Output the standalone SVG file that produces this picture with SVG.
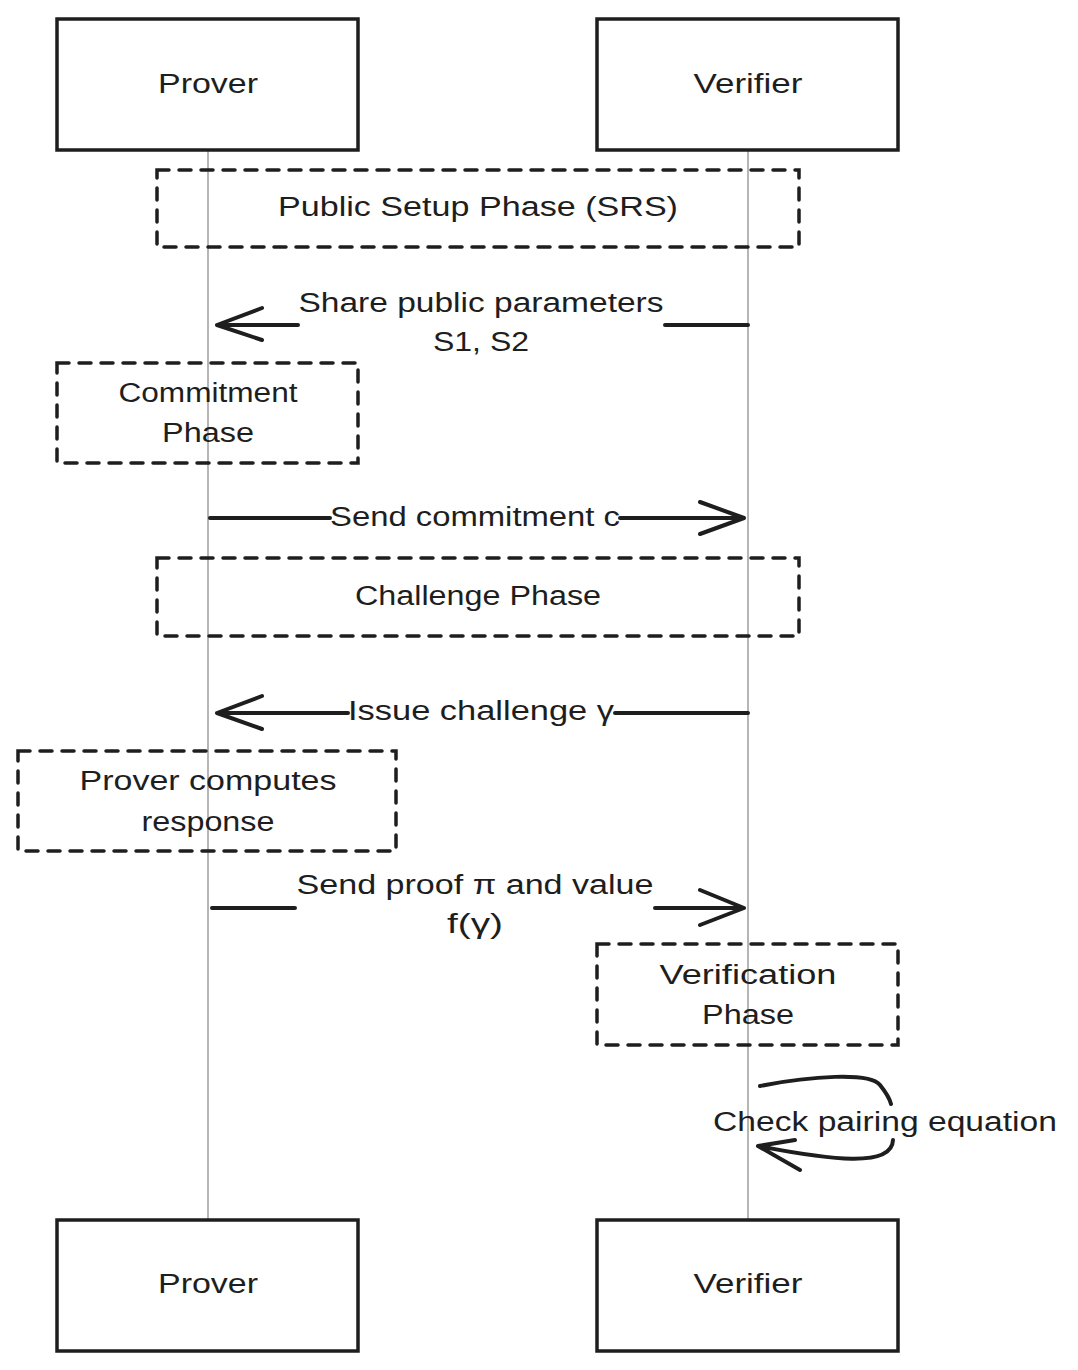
<svg xmlns="http://www.w3.org/2000/svg" width="1078" height="1370" viewBox="0 0 1078 1370">
<style>
.actor{fill:#fff;stroke:#1e1e1e;stroke-width:3.5}
.note{fill:none;stroke:#1e1e1e;stroke-width:3.5;stroke-dasharray:12 10;stroke-linecap:round}
.life{stroke:#9e9e9e;stroke-width:1.5}
.msg{fill:none;stroke:#1e1e1e;stroke-width:4;stroke-linecap:round;stroke-linejoin:round}
text{font-family:"Liberation Sans","DejaVu Sans",sans-serif;font-size:27px;fill:#1e1e1e;text-anchor:middle;dominant-baseline:central}
</style>
<rect width="1078" height="1370" fill="#fff"/>
<g id="lifelines">
<line class="life" x1="208" y1="150" x2="208" y2="1220"/>
<line class="life" x1="748" y1="150" x2="748" y2="1220"/>
</g>
<g id="prover-top"><rect class="actor" x="57" y="19" width="301" height="131"/><text x="208" y="84" textLength="100" lengthAdjust="spacingAndGlyphs">Prover</text></g>
<g id="verifier-top"><rect class="actor" x="597" y="19" width="301" height="131"/><text x="748" y="84" textLength="109" lengthAdjust="spacingAndGlyphs">Verifier</text></g>
<g id="prover-bottom"><rect class="actor" x="57" y="1220" width="301" height="131"/><text x="208" y="1284" textLength="100" lengthAdjust="spacingAndGlyphs">Prover</text></g>
<g id="verifier-bottom"><rect class="actor" x="597" y="1220" width="301" height="131"/><text x="748" y="1284" textLength="109" lengthAdjust="spacingAndGlyphs">Verifier</text></g>
<g id="note-setup"><rect class="note" x="157" y="170" width="642" height="77"/><text x="478" y="207" textLength="400" lengthAdjust="spacingAndGlyphs">Public Setup Phase (SRS)</text></g>
<g id="note-commit"><rect class="note" x="57" y="363" width="301" height="100"/><text x="208" y="393" textLength="179" lengthAdjust="spacingAndGlyphs">Commitment</text><text x="208" y="433" textLength="92" lengthAdjust="spacingAndGlyphs">Phase</text></g>
<g id="note-challenge"><rect class="note" x="157" y="558" width="642" height="78"/><text x="478" y="596" textLength="246" lengthAdjust="spacingAndGlyphs">Challenge Phase</text></g>
<g id="note-response"><rect class="note" x="18" y="751" width="378" height="100"/><text x="208" y="781" textLength="257" lengthAdjust="spacingAndGlyphs">Prover computes</text><text x="208" y="822" textLength="133" lengthAdjust="spacingAndGlyphs">response</text></g>
<g id="note-verify"><rect class="note" x="597" y="944" width="301" height="101"/><text x="748" y="975" textLength="177" lengthAdjust="spacingAndGlyphs">Verification</text><text x="748" y="1015" textLength="92" lengthAdjust="spacingAndGlyphs">Phase</text></g>
<g id="connectors">
<path class="msg" d="M748 325 H665 M298 325 H217 M262 308 L217 325 L262 340"/>
<path class="msg" d="M210 518 H330 M620 518 H744 M700 502 L744 518 L700 534"/>
<path class="msg" d="M748 713 H615 M348 713 H217 M262 696 L217 713 L262 729"/>
<path class="msg" d="M212 908 H295 M655 908 H744 M700 890 L744 908 L700 925"/>
<path class="msg" d="M760 1086 C810 1076 870 1072 880 1085 C888 1095 890 1100 891 1104 M893 1140 C892 1168 830 1160 758 1146 M800 1170 L758 1146 L795 1140"/>
</g>
<g id="labels">
<text x="481" y="303" textLength="365" lengthAdjust="spacingAndGlyphs">Share public parameters</text>
<text x="481" y="342" textLength="96" lengthAdjust="spacingAndGlyphs">S1, S2</text>
<text x="475" y="517" textLength="290" lengthAdjust="spacingAndGlyphs">Send commitment c</text>
<text x="481" y="711" textLength="266" lengthAdjust="spacingAndGlyphs">Issue challenge γ</text>
<text x="475" y="885" textLength="357" lengthAdjust="spacingAndGlyphs">Send proof π and value</text>
<text x="475" y="924" textLength="56" lengthAdjust="spacingAndGlyphs">f(γ)</text>
<text x="885" y="1122" textLength="344" lengthAdjust="spacingAndGlyphs">Check pairing equation</text>
</g>
</svg>
